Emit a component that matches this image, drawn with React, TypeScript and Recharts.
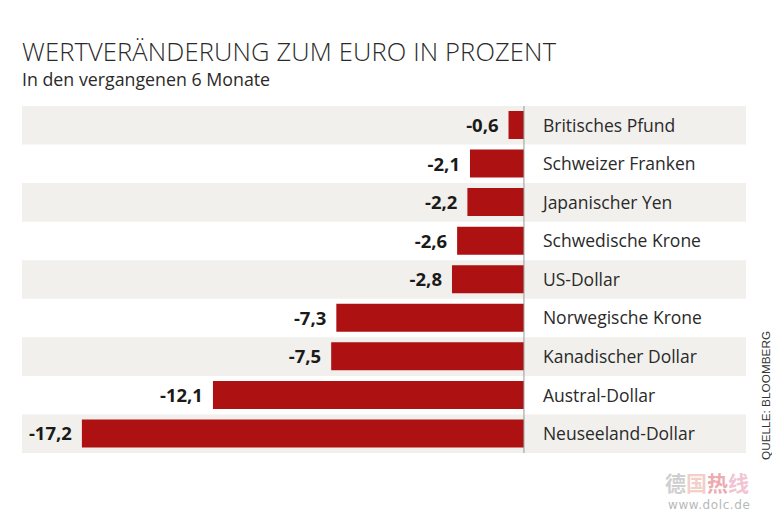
import React from "react";
import { BarChart, Bar, XAxis, YAxis, ReferenceArea, ReferenceLine, LabelList } from "recharts";

const currencies = [
  "Britisches Pfund",
  "Schweizer Franken",
  "Japanischer Yen",
  "Schwedische Krone",
  "US-Dollar",
  "Norwegische Krone",
  "Kanadischer Dollar",
  "Austral-Dollar",
  "Neuseeland-Dollar",
];
const changes = [-0.6, -2.1, -2.2, -2.6, -2.8, -7.3, -7.5, -12.1, -17.2];

const rows = currencies.map((name, i) => ({ name, value: changes[i] }));

const RED = "#ae1111";
const SHADE = "#f1f0ec";
const FONT = "'Open Sans', sans-serif";

const fmt = (v: number) => v.toFixed(1).replace(".", ",");

function ValueLabel(props: any) {
  const { x, y, width, height, value } = props;
  const left = Math.min(x, x + width);
  return (
    <text
      x={left - 10}
      y={y + height / 2}
      dy="0.38em"
      textAnchor="end"
      fontFamily={FONT}
      fontWeight={700}
      fontSize={18.5}
      fill="#1a1a1a"
    >
      {fmt(value)}
    </text>
  );
}

function NameLabel(props: any) {
  const { x, y, width, height, value } = props;
  const right = Math.max(x, x + width);
  return (
    <text
      x={right + 19}
      y={y + height / 2}
      dy="0.38em"
      fontFamily={FONT}
      fontSize={17.5}
      fill="#2a2a2a"
    >
      {value}
    </text>
  );
}

export default function App() {
  return (
    <div style={{ position: "relative", width: 772, height: 504, fontFamily: FONT }}>
      <div
        style={{
          position: "absolute",
          left: 14,
          top: 28,
          fontSize: 25.5,
          fontWeight: 300,
          letterSpacing: 0.15,
          color: "#2a2a2a",
          whiteSpace: "nowrap",
          lineHeight: "30px",
        }}
      >
        WERTVERÄNDERUNG ZUM EURO IN PROZENT
      </div>
      <div
        style={{
          position: "absolute",
          left: 14,
          top: 59,
          fontSize: 17.8,
          color: "#2a2a2a",
          whiteSpace: "nowrap",
          lineHeight: "24px",
        }}
      >
        In den vergangenen 6 Monate
      </div>
      <div style={{ position: "absolute", left: 0, top: 0 }}>
        <BarChart
          width={760}
          height={470}
          data={rows}
          layout="vertical"
          margin={{ top: 98, right: 22, bottom: 25, left: 14 }}
        >
          <XAxis type="number" domain={[-19.53, 8.64]} hide allowDataOverflow />
          <YAxis type="category" dataKey="name" hide />
          {currencies.map((c, i) =>
            i % 2 === 0 ? (
              <ReferenceArea key={c} y1={c} y2={c} fill={SHADE} fillOpacity={1} stroke="none" />
            ) : null
          )}
          <ReferenceLine x={0} stroke="#9a9a9a" strokeWidth={1} />
          <Bar dataKey="value" fill={RED} barSize={28} isAnimationActive={false}>
            <LabelList dataKey="value" content={<ValueLabel />} />
            <LabelList dataKey="name" content={<NameLabel />} />
          </Bar>
        </BarChart>
      </div>
      <div
        style={{
          position: "absolute",
          left: 751,
          top: 452,
          transform: "rotate(-90deg)",
          transformOrigin: "0 0",
          fontFamily: "'Liberation Sans', Arial, sans-serif",
          fontSize: 11.8,
          color: "#333",
          whiteSpace: "nowrap",
          lineHeight: "14px",
        }}
      >
        QUELLE: BLOOMBERG
      </div>
      <div
        style={{
          position: "absolute",
          left: 657,
          top: 461,
          fontFamily: "'Noto Sans CJK SC', sans-serif",
          fontSize: 21,
          fontWeight: 700,
          lineHeight: "26px",
          whiteSpace: "nowrap",
          opacity: 0.4,
        }}
      >
        <span style={{ color: "#8a8a8a" }}>德</span>
        <span style={{ color: "#e08a7a" }}>国</span>
        <span style={{ color: "#d0303a" }}>热</span>
        <span style={{ color: "#e06a90" }}>线</span>
      </div>
      <div
        style={{
          position: "absolute",
          left: 660,
          top: 490,
          fontFamily: "'DejaVu Sans', sans-serif",
          fontSize: 12,
          letterSpacing: 0.6,
          color: "#b8b8b8",
          whiteSpace: "nowrap",
          lineHeight: "14px",
        }}
      >
        www.dolc.de
      </div>
    </div>
  );
}
